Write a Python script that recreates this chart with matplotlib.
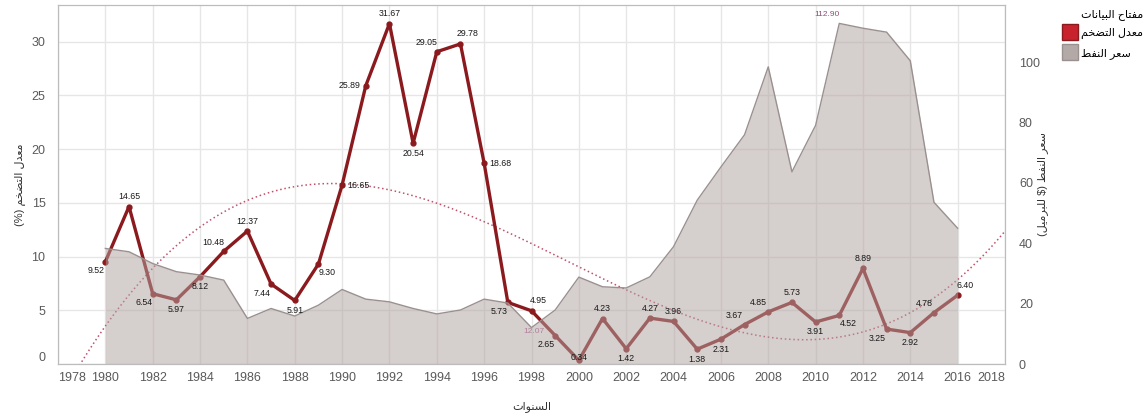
import numpy as np
import matplotlib
matplotlib.use("Agg")
import matplotlib.pyplot as plt
from matplotlib.lines import Line2D

plt.rcParams['font.family'] = ['Liberation Sans', 'DejaVu Sans']

years = list(range(1980, 2017))
inflation = [9.52, 14.65, 6.54, 5.97, 8.12, 10.48, 12.37, 7.44, 5.91, 9.30,
             16.65, 25.89, 31.67, 20.54, 29.05, 29.78, 18.68, 5.73, 4.95, 2.65,
             0.34, 4.23, 1.42, 4.27, 3.96, 1.38, 2.31, 3.67, 4.85, 5.73,
             3.91, 4.52, 8.89, 3.25, 2.92, 4.78, 6.40]
oil_price = [38.3, 37.2, 33.3, 30.6, 29.5, 27.8, 15.1, 18.4, 15.9, 19.5,
             24.7, 21.5, 20.6, 18.4, 16.6, 17.9, 21.5, 20.2, 12.07, 17.9,
             28.8, 25.6, 25.2, 28.9, 38.9, 54.3, 65.3, 76.0, 98.5, 63.7,
             79.1, 112.90, 111.3, 110.0, 100.5, 53.6, 45.0]
oil_labelled = {1998: 12.07, 2011: 112.90}

# where each inflation label sits relative to its point
label_pos = ['bl', 'a', 'bl', 'b', 'b', 'al', 'a', 'bl', 'b', 'br',
             'r', 'l', 'a', 'b', 'al', 'ar', 'r', 'bl', 'ar', 'bl',
             'c', 'a', 'b', 'a', 'a', 'b', 'b', 'al', 'al', 'a',
             'b', 'br', 'a', 'bl', 'b', 'al', 'ar']
offsets = {'a': (0, 10), 'b': (0, -10), 'l': (-16, 0), 'r': (16, 0),
           'al': (-10, 9), 'ar': (7, 10), 'bl': (-9, -9), 'br': (9, -8),
           'c': (0, 3)}

FORMS = {
    'ا': (0xFE8D, 0xFE8E, None, None), 'ب': (0xFE8F, 0xFE90, 0xFE91, 0xFE92),
    'ت': (0xFE95, 0xFE96, 0xFE97, 0xFE98), 'ح': (0xFEA1, 0xFEA2, 0xFEA3, 0xFEA4),
    'خ': (0xFEA5, 0xFEA6, 0xFEA7, 0xFEA8), 'د': (0xFEA9, 0xFEAA, None, None),
    'ر': (0xFEAD, 0xFEAE, None, None), 'س': (0xFEB1, 0xFEB2, 0xFEB3, 0xFEB4),
    'ض': (0xFEBD, 0xFEBE, 0xFEBF, 0xFEC0), 'ط': (0xFEC1, 0xFEC2, 0xFEC3, 0xFEC4),
    'ع': (0xFEC9, 0xFECA, 0xFECB, 0xFECC), 'ف': (0xFED1, 0xFED2, 0xFED3, 0xFED4),
    'ل': (0xFEDD, 0xFEDE, 0xFEDF, 0xFEE0), 'م': (0xFEE1, 0xFEE2, 0xFEE3, 0xFEE4),
    'ن': (0xFEE5, 0xFEE6, 0xFEE7, 0xFEE8), 'و': (0xFEED, 0xFEEE, None, None),
    'ي': (0xFEF1, 0xFEF2, 0xFEF3, 0xFEF4),
}


def ar(text):
    """join the arabic letters and put them in visual order"""
    def dual(c):
        return c in FORMS and FORMS[c][2] is not None
    out = []
    for i, c in enumerate(text):
        if c not in FORMS:
            out.append(c)
            continue
        prev = text[i - 1] if i > 0 else ''
        nxt = text[i + 1] if i + 1 < len(text) else ''
        jp = dual(prev)
        jn = dual(c) and nxt in FORMS
        iso, fin, ini, med = FORMS[c]
        if jp and jn:
            out.append(chr(med))
        elif jp:
            out.append(chr(fin))
        elif jn:
            out.append(chr(ini))
        else:
            out.append(chr(iso))
    return ''.join(out)[::-1].translate(str.maketrans('()', ')('))


W, H = 1147, 415
fig = plt.figure(figsize=(W / 100, H / 100), dpi=100)
ax = fig.add_axes([58 / W, 1 - 364 / H, (1005 - 58) / W, (364 - 5) / H])
ax2 = ax.twinx()

dark_red = '#8b1a1e'
grid_c = '#e6e6e6'
tick_c = '#5a5a5a'

# trend of the inflation
coef = np.polyfit(years, inflation, 3)
xt = np.linspace(1978, 2018, 300)
ax.plot(xt, np.polyval(coef, xt), color='#c0506a', lw=1.1, ls=(0, (1, 1.8)), zorder=2)

ax.plot(years, inflation, color=dark_red, lw=2.4, marker='o', ms=3.5, zorder=3)

ax2.fill_between(years, 0, oil_price, color='#b0a3a0', alpha=0.52, lw=0, zorder=1)
ax2.plot(years, oil_price, color='#9a9090', lw=1.0, zorder=2)

for x, v, p in zip(years, inflation, label_pos):
    ax2.annotate(f'{v:.2f}', (x, v), xycoords=ax.transData, textcoords='offset pixels',
                 xytext=offsets[p], ha='center', va='center', fontsize=6.3,
                 color='#1a1a1a', zorder=5)
ax2.annotate(f'{oil_labelled[2011]:.2f}', (2011, oil_labelled[2011]), textcoords='offset pixels',
             xytext=(-12, 9), ha='center', va='center', fontsize=6, color='#8a4f7a')
ax2.annotate(f'{oil_labelled[1998]:.2f}', (1998, oil_labelled[1998]), textcoords='offset pixels',
             xytext=(2, -4), ha='center', va='center', fontsize=6, color='#b07f9a')

ax.set_xlim(1978, 2018)
ax.set_ylim(0, 33.4)
ax2.set_ylim(0, 119)
ax.set_xticks(range(1978, 2019, 2))
ax.set_yticks(range(0, 31, 5))
ax2.set_yticks(range(0, 101, 20))
ax.grid(True, color=grid_c, lw=1)
ax.set_axisbelow(True)

xl = ax.get_xticklabels()
xl[0].set_ha('left')
xl[-1].set_ha('right')
ax.get_yticklabels()[0].set_va('bottom')

for a in (ax, ax2):
    a.tick_params(length=0, colors=tick_c, labelsize=9)
    for s in a.spines.values():
        s.set_color('#bcbcbc')
ax.tick_params(axis='x', pad=6)
ax.tick_params(axis='y', pad=9)
ax2.tick_params(axis='y', pad=10)

ax.set_xlabel(ar('السنوات'), fontsize=8, color='#333333', labelpad=12)
ax.set_ylabel(ar('معدل التضخم (%)'), fontsize=8, color='#333333', labelpad=4)
ax2.set_ylabel(ar('سعر النفط ($ للبرميل)'), fontsize=8, color='#333333', labelpad=-2)

handles = [Line2D([], [], marker='s', ls='none', ms=11, mfc='#c8232c', mec='#8b1a1e'),
           Line2D([], [], marker='s', ls='none', ms=11, mfc='#b3aaa8', mec='#9a9090')]
leg = fig.legend(handles, [ar('معدل التضخم'), ar('سعر النفط')], title=ar('مفتاح البيانات'),
                 loc='upper right', bbox_to_anchor=(1143 / W, 1 - 9 / H), frameon=False,
                 fontsize=8, title_fontsize=8, handletextpad=0.5, labelspacing=0.75,
                 borderaxespad=0, borderpad=0, handlelength=1.0, alignment='right')

fig.savefig('out.png', dpi=100)
